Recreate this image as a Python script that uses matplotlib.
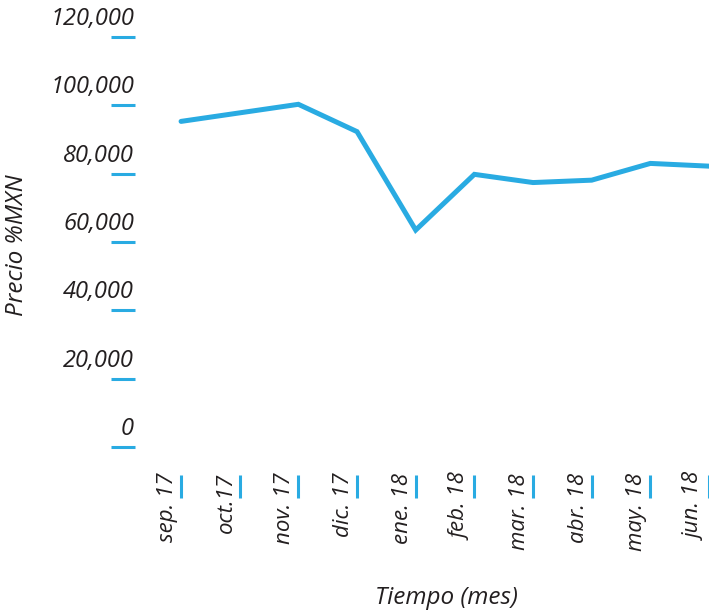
import matplotlib as mpl
mpl.use('Agg')
import matplotlib.pyplot as plt
import matplotlib.transforms as mtransforms

MONTHS = ["sep. 17", "oct.17", "nov. 17", "dic. 17", "ene. 18",
          "feb. 18", "mar. 18", "abr. 18", "may. 18", "jun. 18"]
PRICES = [95300, 97800, 100300, 92300, 63500,
          79800, 77400, 78100, 83000, 82200]
Y_TICKS = [0, 20000, 40000, 60000, 80000, 100000, 120000]

BLUE = '#29abe2'
TEXT = '#231f20'
FONT = 'Open Sans'

plt.rcParams['font.family'] = [FONT, 'DejaVu Sans']

fig = plt.figure(figsize=(7.09, 6.14), dpi=100)
ax = fig.add_axes([140 / 709, 167 / 614, 569 / 709, 410 / 614])

x = list(range(len(MONTHS)))
ax.plot(x, PRICES, color=BLUE, linewidth=3.6, solid_joinstyle='miter',
        solid_capstyle='round')

ax.set_xlim(-0.7, 9.0)
ax.set_ylim(0, 120000)

for s in ax.spines.values():
    s.set_visible(False)

# y ticks: label above a short blue dash
ax.set_yticks(Y_TICKS)
ax.set_yticklabels(['{:,}'.format(v) for v in Y_TICKS])
ax.tick_params(axis='y', length=0, pad=4.3, labelsize=17, labelcolor=TEXT)
up = mtransforms.ScaledTranslation(0, 0.21, fig.dpi_scale_trans)
for lab in ax.get_yticklabels():
    lab.set_fontstyle('italic')
    lab.set_transform(lab.get_transform() + up)

ytr = mtransforms.blended_transform_factory(fig.transFigure, ax.transData)
for v in Y_TICKS:
    ax.plot([111 / 709, 134.5 / 709], [v, v], transform=ytr, color=BLUE,
            linewidth=2.2, solid_capstyle='butt', clip_on=False)

# x ticks: rotated label with a blue bar on its right
ax.set_xticks(x)
ax.set_xticklabels(MONTHS, rotation=90, ha='right', va='top')
ax.tick_params(axis='x', length=0, pad=18.7, labelsize=16, labelcolor=TEXT)
left = mtransforms.ScaledTranslation(-0.03, 0, fig.dpi_scale_trans)
for lab in ax.get_xticklabels():
    lab.set_fontstyle('italic')
    lab.set_transform(lab.get_transform() + left)

xtr = mtransforms.blended_transform_factory(ax.transData, fig.transFigure)
for i in x:
    ax.plot([i, i], [139 / 614, 116 / 614], transform=xtr, color=BLUE,
            linewidth=2.2, solid_capstyle='butt', clip_on=False)

fig.text(17 / 709, 1 - 245 / 614, 'Precio %MXN', rotation=90, ha='center',
         va='center', fontsize=17.5, fontstyle='italic', color=TEXT)
fig.text(446 / 709, 1 - 598 / 614, 'Tiempo (mes)', ha='center', va='center',
         fontsize=17.5, fontstyle='italic', color=TEXT)

fig.savefig('out.png', dpi=100)
